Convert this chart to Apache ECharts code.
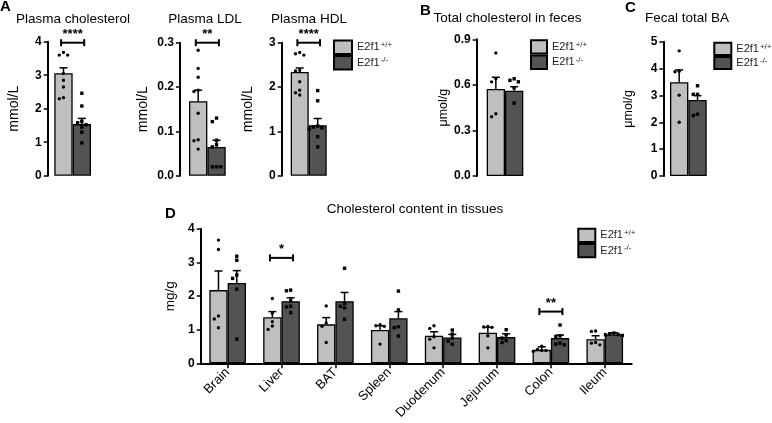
<!DOCTYPE html>
<html><head><meta charset="utf-8">
<script src="https://cdn.jsdelivr.net/npm/echarts@6/dist/echarts.min.js"></script>
<style>html,body{margin:0;padding:0;background:#fff}#c{width:772px;height:423px}</style>
</head><body><div id="c"></div>
<script>
const groupNames = ['E2f1+/+', 'E2f1-/-'];

// Panel A – plasma lipids (mmol/L)
const cholTicks = [0, 1, 2, 3, 4];
const cholMean = [3.06, 1.54];
const cholSem = [0.16, 0.17];
const cholPtsWT = [3.68, 3.6, 3.6, 3.05, 2.85, 2.65, 2.3, 2.33];
const cholPtsKO = [2.46, 2.08, 1.62, 1.58, 1.52, 1.45, 1.3, 0.98];

const ldlTicks = [0, 0.1, 0.2, 0.3];
const ldlMean = [0.168, 0.065];
const ldlSem = [0.025, 0.015];
const ldlPtsWT = [0.283, 0.242, 0.222, 0.193, 0.19, 0.141, 0.081, 0.079, 0.06];
const ldlPtsKO = [0.13, 0.122, 0.08, 0.07, 0.065, 0.02, 0.02, 0.02];

const hdlTicks = [0, 1, 2, 3];
const hdlMean = [2.34, 1.14];
const hdlSem = [0.09, 0.15];
const hdlPtsWT = [2.78, 2.75, 2.72, 2.38, 2.36, 2.12, 1.93, 1.87, 1.82];
const hdlPtsKO = [1.92, 1.69, 1.12, 1.1, 1.05, 1.08, 0.88, 0.65];

// Panel B – total cholesterol in feces (umol/g)
const fecesTicks = [0, 0.3, 0.6, 0.9];
const fecesMean = [0.573, 0.562];
const fecesSem = [0.077, 0.026];
const fecesPtsWT = [0.81, 0.64, 0.62, 0.41, 0.39];
const fecesPtsKO = [0.64, 0.63, 0.62, 0.58, 0.48];

// Panel C – fecal total BA (umol/g)
const baTicks = [0, 1, 2, 3, 4, 5];
const baMean = [3.49, 2.83];
const baSem = [0.46, 0.16];
const baPtsWT = [4.66, 3.9, 3.88, 3.01, 2.0];
const baPtsKO = [3.36, 3.04, 3.04, 2.3, 2.25];

// Panel D – cholesterol content in tissues (mg/g)
const tissues = ['Brain', 'Liver', 'BAT', 'Spleen', 'Duodenum', 'Jejunum', 'Colon', 'Ileum'];
const tissueTicks = [0, 1, 2, 3, 4];
const tissueMeanWT = [2.18, 1.37, 1.16, 0.99, 0.82, 0.91, 0.40, 0.72];
const tissueSemWT = [0.57, 0.17, 0.20, 0.13, 0.12, 0.16, 0.09, 0.10];
const tissueMeanKO = [2.39, 1.85, 1.85, 1.34, 0.77, 0.78, 0.75, 0.86];
const tissueSemKO = [0.37, 0.10, 0.26, 0.20, 0.09, 0.10, 0.09, 0.05];
const tissuePtsWT = [
  [3.67, 3.39, 1.41, 1.32, 1.06],
  [1.93, 1.49, 1.24, 1.11, 1.01],
  [1.71, 1.2, 1.1, 0.62],
  [1.15, 1.12, 1.1, 0.57],
  [1.04, 1.12, 0.79, 0.72, 0.46],
  [1.1, 1.08, 1.07, 0.82, 0.46],
  [0.51, 0.41, 0.38, 0.38, 0.35],
  [0.96, 0.95, 0.62, 0.6, 0.55]
];
const tissuePtsKO = [
  [3.19, 3.07, 2.63, 2.53, 2.21, 0.72],
  [2.16, 2.18, 1.86, 1.70, 1.68, 1.51],
  [2.83, 1.78, 1.7, 1.65, 1.31],
  [2.15, 1.59, 1.09, 1.06, 0.81],
  [0.99, 0.87, 0.75, 0.66, 0.57],
  [1.0, 0.85, 0.75, 0.68, 0.62],
  [1.14, 0.82, 0.8, 0.6, 0.57, 0.55],
  [0.88, 0.9, 0.85, 0.86, 0.83]
];

// significance brackets: [category index, bracket level, stars]
const cholSig = [[0, 3.97, '****']];
const ldlSig = [[0, 0.3, '**']];
const hdlSig = [[0, 3.0, '****']];
const tissueSig = [[1, 3.14, '*'], [6, 1.54, '**']];

const LIGHT = '#bfbfbf', DARK = '#535353';
const FONT = 'Liberation Sans, Arial, Helvetica, sans-serif';

const panels = [
  {grid: {left: 54.3, top: 41.7, width: 36.7, height: 134}, yOff: 6.6, ticks: cholTicks, dec: 0, name: 'mmol/L', nameSize: 14, nameGap: 27,
   cats: [''], means: [[cholMean[0]], [cholMean[1]]], sems: [[cholSem[0]], [cholSem[1]]], pts: [[cholPtsWT], [cholPtsKO]], sig: cholSig, gap: 0},
  {grid: {left: 189, top: 42.7, width: 36.7, height: 133}, yOff: 9, ticks: ldlTicks, dec: 1, name: 'mmol/L', nameSize: 14, nameGap: 30,
   cats: [''], means: [[ldlMean[0]], [ldlMean[1]]], sems: [[ldlSem[0]], [ldlSem[1]]], pts: [[ldlPtsWT], [ldlPtsKO]], sig: ldlSig, gap: 0},
  {grid: {left: 290.7, top: 42.7, width: 36, height: 133}, yOff: 9, ticks: hdlTicks, dec: 0, name: 'mmol/L', nameSize: 14, nameGap: 27,
   cats: [''], means: [[hdlMean[0]], [hdlMean[1]]], sems: [[hdlSem[0]], [hdlSem[1]]], pts: [[hdlPtsWT], [hdlPtsKO]], sig: hdlSig, gap: 0},
  {grid: {left: 486.7, top: 39.3, width: 36.6, height: 136.7}, yOff: 10, ticks: fecesTicks, dec: 1, name: 'μmol/g', nameSize: 12.5, nameGap: 26,
   cats: [''], means: [[fecesMean[0]], [fecesMean[1]]], sems: [[fecesSem[0]], [fecesSem[1]]], pts: [[fecesPtsWT], [fecesPtsKO]], sig: [], gap: 0},
  {grid: {left: 670, top: 41.7, width: 36.7, height: 134.3}, yOff: 6.7, ticks: baTicks, dec: 0, name: 'μmol/g', nameSize: 12.5, nameGap: 28,
   cats: [''], means: [[baMean[0]], [baMean[1]]], sems: [[baSem[0]], [baSem[1]]], pts: [[baPtsWT], [baPtsKO]], sig: [], gap: 0},
  {grid: {left: 200.7, top: 229, width: 431, height: 134.3}, yOff: 0, ticks: tissueTicks, dec: 0, name: 'mg/g', nameSize: 13.5, nameGap: 17,
   cats: tissues, means: [tissueMeanWT, tissueMeanKO], sems: [tissueSemWT, tissueSemKO], pts: [tissuePtsWT, tissuePtsKO], sig: tissueSig, gap: 0.32, xShow: true}
];

// beeswarm-like horizontal spreading of points with close values
function swarm(values, thr) {
  const order = values.map((v, i) => [v, i]).sort((a, b) => b[0] - a[0]);
  const slots = [0, -1, 1, -2, 2, -3, 3];
  const placed = [];
  const res = new Array(values.length).fill(0);
  order.forEach(([v, i]) => {
    const near = placed.filter(p => Math.abs(p.v - v) < thr).map(p => p.s);
    let s = slots.find(k => near.indexOf(k) < 0);
    if (s === undefined) s = 0;
    placed.push({v, s});
    res[i] = s;
  });
  return res;
}

function barW(api, gap) { return api.size([1, 0])[0] * (1 - gap) / 2; }

const grid = [], xAxis = [], yAxis = [], series = [];
panels.forEach((p, pi) => {
  grid.push(Object.assign({containLabel: false}, p.grid));
  xAxis.push({
    type: 'category', gridIndex: pi, data: p.cats, show: !!p.xShow,
    axisLine: {show: true, lineStyle: {color: '#000', width: 2}},
    axisTick: {show: true, alignWithLabel: true, length: 5, lineStyle: {color: '#000', width: 1.5}},
    axisLabel: {rotate: 45, fontSize: 13, color: '#000', fontFamily: FONT, margin: 7}
  });
  const t = p.ticks;
  yAxis.push({
    type: 'value', gridIndex: pi, min: t[0], max: t[t.length - 1], interval: t[1] - t[0], offset: p.yOff,
    name: p.name, nameLocation: 'middle', nameGap: p.nameGap,
    nameTextStyle: {fontSize: p.nameSize, color: '#000', fontFamily: FONT},
    axisLine: {show: true, lineStyle: {color: '#000', width: 2}},
    axisTick: {show: true, length: 4, lineStyle: {color: '#000', width: 1.5}},
    splitLine: {show: false},
    axisLabel: {fontSize: 12, fontWeight: 'bold', color: '#000', fontFamily: FONT, margin: 6,
      formatter: v => v.toFixed(p.dec)}
  });
  [0, 1].forEach(g => {
    series.push({
      type: 'bar', name: groupNames[g], xAxisIndex: pi, yAxisIndex: pi,
      data: p.means[g], barGap: '0%', barCategoryGap: (p.gap * 100) + '%',
      itemStyle: {color: g ? DARK : LIGHT, borderColor: '#000', borderWidth: 1.3},
      z: 2
    });
  });
  // error bars (mean + SEM)
  const errData = [];
  [0, 1].forEach(g => p.means[g].forEach((m, ci) => errData.push([ci, m, p.sems[g][ci], g])));
  series.push({
    type: 'custom', xAxisIndex: pi, yAxisIndex: pi, data: errData, z: 4, silent: true,
    renderItem: (params, api) => {
      const ci = api.value(0), m = api.value(1), s = api.value(2), g = api.value(3);
      const bw = barW(api, p.gap);
      const c0 = api.coord([ci, m]), c1 = api.coord([ci, m + s]);
      const x = c0[0] + (g - 0.5) * bw;
      const st = {stroke: '#000', lineWidth: 1.5};
      return {type: 'group', children: [
        {type: 'line', shape: {x1: x, y1: c0[1], x2: x, y2: c1[1]}, style: st},
        {type: 'line', shape: {x1: x - 4, y1: c1[1], x2: x + 4, y2: c1[1]}, style: st}
      ]};
    }
  });
  // individual points
  const ptData = [];
  const thr = (t[t.length - 1] - t[0]) * 0.03;
  [0, 1].forEach(g => p.pts[g].forEach((arr, ci) => {
    const sw = swarm(arr, thr);
    arr.forEach((v, k) => ptData.push([ci, v, g, sw[k]]));
  }));
  series.push({
    type: 'custom', xAxisIndex: pi, yAxisIndex: pi, data: ptData, z: 5, silent: true,
    renderItem: (params, api) => {
      const ci = api.value(0), v = api.value(1), g = api.value(2), s = api.value(3);
      const bw = barW(api, p.gap);
      const c = api.coord([ci, v]);
      const x = c[0] + (g - 0.5) * bw + s * 4.2;
      if (g === 0) return {type: 'circle', shape: {cx: x, cy: c[1], r: 1.7}, style: {fill: '#000'}};
      return {type: 'rect', shape: {x: x - 1.7, y: c[1] - 1.7, width: 3.4, height: 3.4}, style: {fill: '#000'}};
    }
  });
  // significance brackets
  if (p.sig.length) {
    series.push({
      type: 'custom', xAxisIndex: pi, yAxisIndex: pi, data: p.sig.map(s => [s[0], s[1]]), z: 6, silent: true,
      renderItem: (params, api) => {
        const ci = api.value(0), lv = api.value(1);
        const bw = barW(api, p.gap);
        const c = api.coord([ci, lv]);
        const x1 = c[0] - 0.63 * bw, x2 = c[0] + 0.63 * bw, y = c[1];
        const st = {stroke: '#000', lineWidth: 2};
        return {type: 'group', children: [
          {type: 'line', shape: {x1, y1: y, x2, y2: y}, style: st},
          {type: 'line', shape: {x1, y1: y - 3.5, x2: x1, y2: y + 3.5}, style: st},
          {type: 'line', shape: {x1: x2, y1: y - 3.5, x2, y2: y + 3.5}, style: st},
          {type: 'text', x: c[0], y: y - 2, style: {text: p.sig[params.dataIndex][2], fontSize: 13, fontWeight: 'bold',
            fill: '#000', align: 'center', verticalAlign: 'bottom', fontFamily: FONT}}
        ]};
      }
    });
  }
});

const legendText = {
  fontSize: 11, color: '#222', fontFamily: FONT, lineHeight: 13,
  rich: {s: {fontSize: 8, verticalAlign: 'top', lineHeight: 13, fontFamily: FONT, color: '#222', padding: [0, 0, 0, 1]}}
};
function mkLegend(left, top, w, h) {
  return {left, top, orient: 'vertical', itemGap: 0, itemWidth: w, itemHeight: h, icon: 'rect', padding: 0,
    selectedMode: false, data: groupNames, textStyle: legendText,
    formatter: n => n.replace(/^(E2f1)(.*)$/, '$1{s|$2}')};
}

const titles = [
  ['Plasma cholesterol', 73, 19], ['Plasma LDL', 205, 19], ['Plasma HDL', 309, 19],
  ['Total cholesterol in feces', 507.5, 18.5], ['Fecal total BA', 687, 18.5], ['Cholesterol content in tissues', 415, 209]
];
const letters = [['A', 0, -1], ['B', 420, 3], ['C', 625, 0], ['D', 165, 206]];

const graphic = titles.map(t => ({type: 'text', x: t[1], y: t[2],
  style: {text: t[0], fontSize: 13.5, fill: '#000', align: 'center', verticalAlign: 'middle', fontFamily: FONT}}))
  .concat(letters.map(l => ({type: 'text', x: l[1], y: l[2],
  style: {text: l[0], fontSize: 15, fontWeight: 'bold', fill: '#000', align: 'left', verticalAlign: 'top', fontFamily: FONT}})));

const chart = echarts.init(document.getElementById('c'), null, {renderer: 'canvas'});
chart.setOption({
  animation: false,
  backgroundColor: '#fff',
  grid, xAxis, yAxis, series, graphic,
  legend: [mkLegend(333, 39.5, 18, 13.5), mkLegend(530, 39.3, 16, 13.3), mkLegend(713.3, 41.7, 17, 12.2), mkLegend(577.3, 227.7, 17, 13.3)]
});
</script></body></html>
